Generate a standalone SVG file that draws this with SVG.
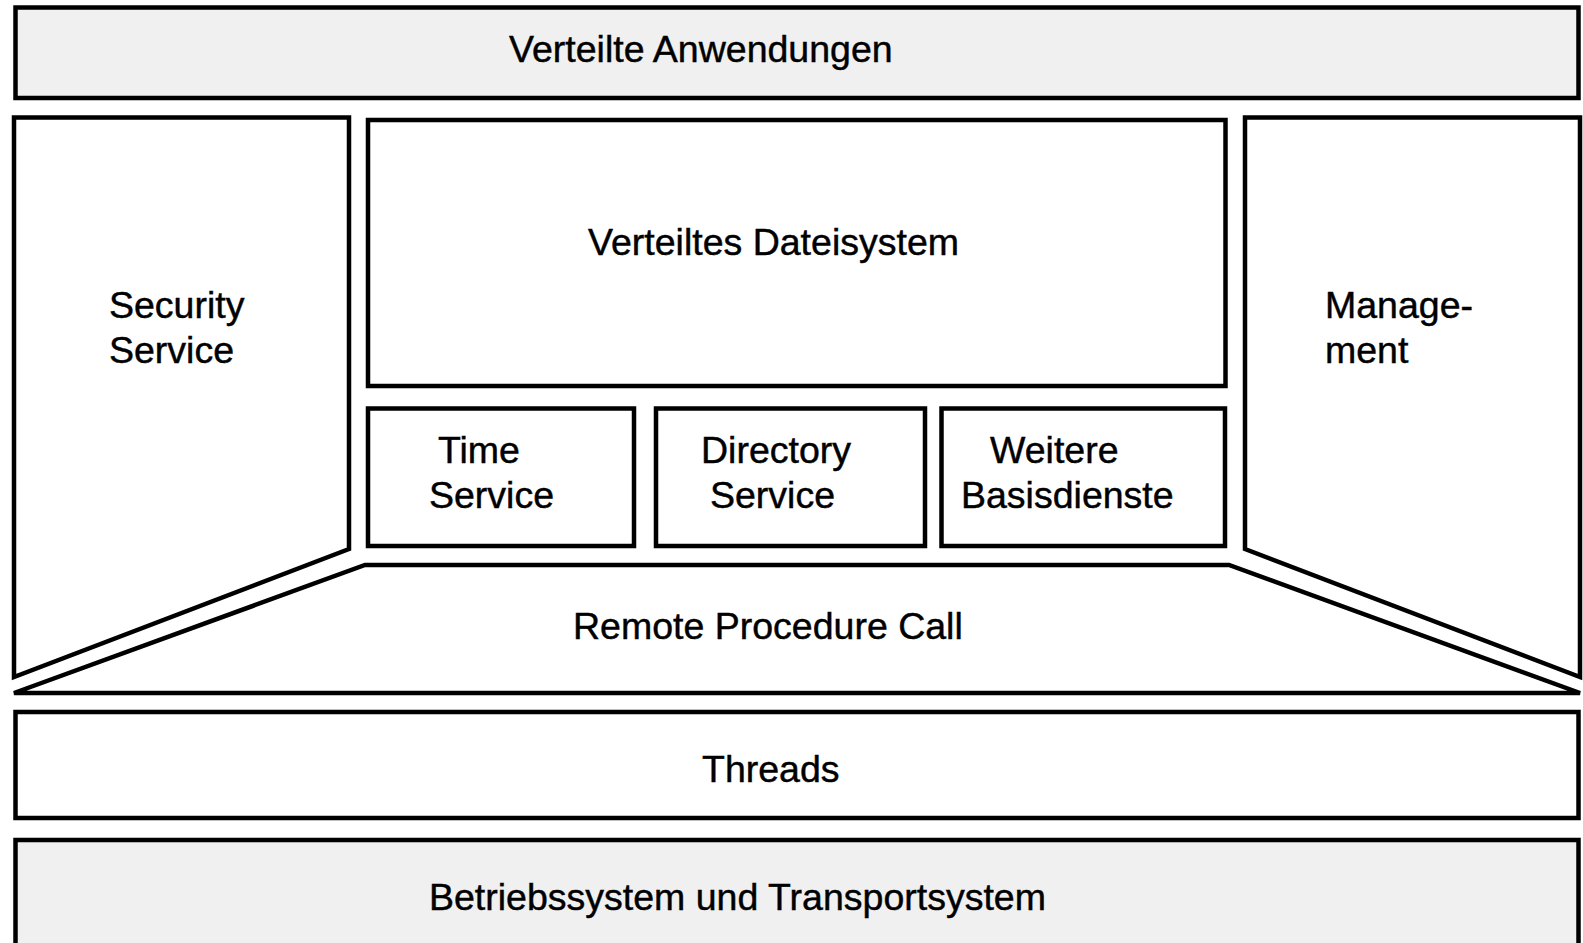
<svg xmlns="http://www.w3.org/2000/svg" width="1583" height="943" viewBox="0 0 1583 943">
  <style>
    .box { fill: #ffffff; stroke: #000000; stroke-width: 4.5; stroke-linejoin: miter; }
    .layer { fill: #f0f0f0; stroke: #000000; stroke-width: 4.5; }
    .lbl { font-family: "Liberation Sans", Arial, sans-serif; font-size: 37.5px; fill: #000000; stroke: #000000; stroke-width: 0.45; }
  </style>
  <rect width="1583" height="943" fill="#ffffff"/>

  <g id="verteilte-anwendungen">
    <rect class="layer" x="15.5" y="7.5" width="1563" height="90.5"/>
    <text class="lbl" x="509" y="62">Verteilte Anwendungen</text>
  </g>

  <g id="security-service">
    <polygon class="box" points="14,117.5 349,117.5 349,549 14,677"/>
    <text class="lbl" x="109" y="318">Security</text>
    <text class="lbl" x="109" y="363">Service</text>
  </g>

  <g id="management">
    <polygon class="box" points="1245,117.5 1580,117.5 1580,677 1245,549"/>
    <text class="lbl" x="1325" y="318">Manage-</text>
    <text class="lbl" x="1325" y="363">ment</text>
  </g>

  <g id="verteiltes-dateisystem">
    <rect class="box" x="368" y="120" width="857.5" height="266"/>
    <text class="lbl" x="588" y="255">Verteiltes Dateisystem</text>
  </g>

  <g id="time-service">
    <rect class="box" x="368" y="408.5" width="266" height="137.5"/>
    <text class="lbl" x="438" y="463">Time</text>
    <text class="lbl" x="429" y="508">Service</text>
  </g>

  <g id="directory-service">
    <rect class="box" x="656" y="408.5" width="269" height="137.5"/>
    <text class="lbl" x="701" y="463">Directory</text>
    <text class="lbl" x="710" y="508">Service</text>
  </g>

  <g id="weitere-basisdienste">
    <rect class="box" x="941.5" y="408.5" width="283.5" height="137.5"/>
    <text class="lbl" x="990" y="463">Weitere</text>
    <text class="lbl" x="961" y="508">Basisdienste</text>
  </g>

  <g id="remote-procedure-call">
    <polygon class="box" points="365,565 1229,565 1580,693 14,693"/>
    <text class="lbl" x="573" y="639">Remote Procedure Call</text>
  </g>

  <g id="threads">
    <rect class="box" x="15.5" y="712" width="1563" height="106"/>
    <text class="lbl" x="702" y="782">Threads</text>
  </g>

  <g id="betriebssystem">
    <rect class="layer" x="15.5" y="840" width="1563" height="130"/>
    <text class="lbl" x="429" y="910">Betriebssystem und Transportsystem</text>
  </g>

  <g id="connectors"></g>
</svg>
